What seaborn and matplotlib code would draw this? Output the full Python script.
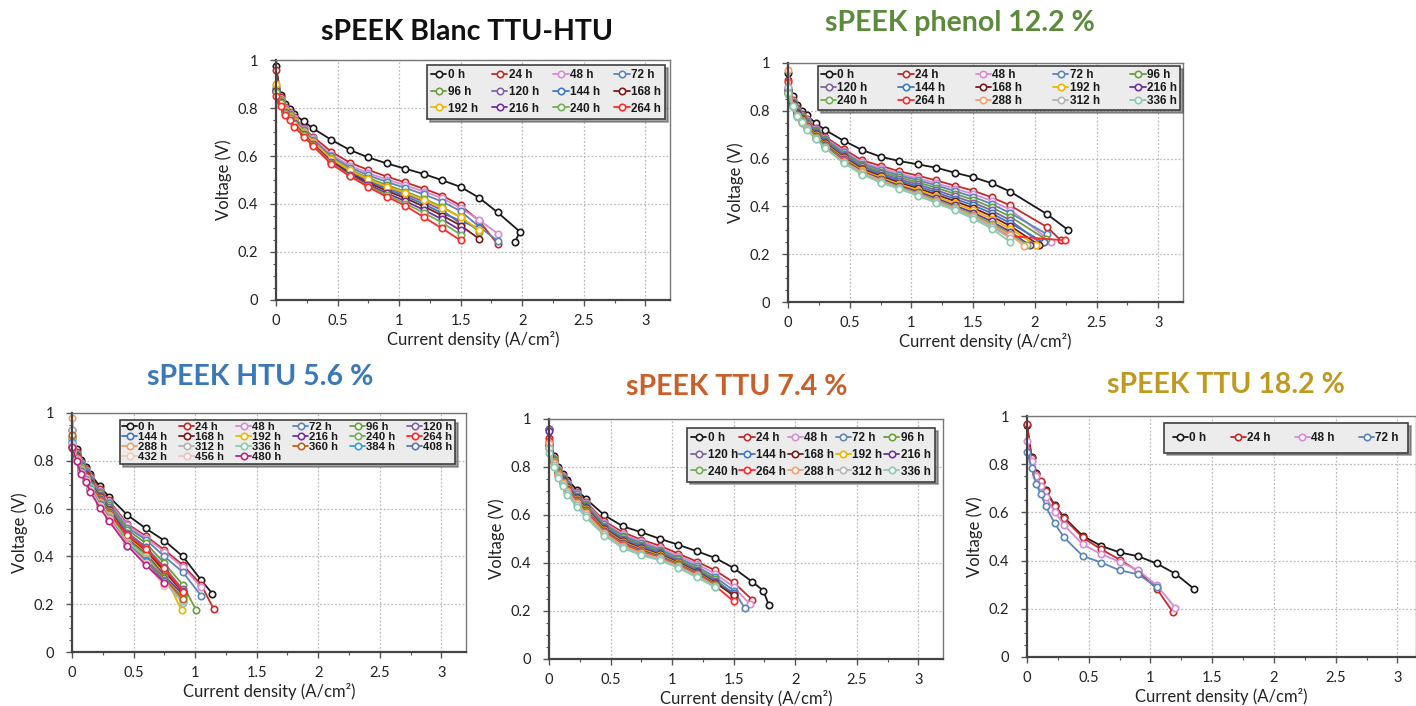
import matplotlib
matplotlib.use("Agg")
import matplotlib.pyplot as plt
from matplotlib.lines import Line2D
from matplotlib.ticker import MultipleLocator, FuncFormatter
import pandas as pd
import seaborn as sns

sns.set_style("ticks")
plt.rcParams['font.family'] = ['Lato', 'DejaVu Sans']

# colour used for each ageing time (same in every panel)
hour_colors = {
    "0 h": "#1a1a1a", "24 h": "#c42a28", "48 h": "#d98ad6", "72 h": "#5b86b8",
    "96 h": "#6a9f3e", "120 h": "#8064a2", "144 h": "#3c78c8", "168 h": "#7a1a1a",
    "192 h": "#f0b400", "216 h": "#7030a0", "240 h": "#70b050", "264 h": "#ff2a2a",
    "288 h": "#f4a070", "312 h": "#b4b4b4", "336 h": "#88ccb0", "360 h": "#c06020",
    "384 h": "#30a0e0", "408 h": "#5a7aa0", "432 h": "#f8c8b0", "456 h": "#f0c0c0",
    "480 h": "#c0208a",
}

# ---- sPEEK Blanc TTU-HTU
blanc_j = [0, 0.0375, 0.075, 0.1125, 0.15, 0.225, 0.3, 0.45, 0.6, 0.75, 0.9,
           1.05, 1.2, 1.35, 1.5, 1.65, 1.8]
blanc_v = {
    "0 h": [0.975, 0.854, 0.817, 0.794, 0.774, 0.744, 0.715, 0.667, 0.625, 0.594, 0.569, 0.547, 0.525, 0.499, 0.471, 0.426, 0.365, 0.285, 0.240],
    "24 h": [0.960, 0.845, 0.805, 0.782, 0.762, 0.716, 0.680, 0.618, 0.572, 0.542, 0.514, 0.490, 0.464, 0.435, 0.394, 0.330, 0.232],
    "48 h": [0.895, 0.838, 0.800, 0.778, 0.757, 0.712, 0.674, 0.605, 0.560, 0.528, 0.502, 0.478, 0.452, 0.424, 0.383, 0.333, 0.277],
    "72 h": [0.885, 0.835, 0.796, 0.774, 0.752, 0.707, 0.668, 0.598, 0.552, 0.519, 0.492, 0.467, 0.440, 0.410, 0.370, 0.305, 0.247],
    "96 h": [0.880, 0.832, 0.792, 0.770, 0.748, 0.702, 0.662, 0.590, 0.543, 0.508, 0.479, 0.452, 0.422, 0.388, 0.345, 0.285],
    "120 h": [0.875, 0.830, 0.790, 0.768, 0.745, 0.699, 0.658, 0.585, 0.537, 0.500, 0.470, 0.441, 0.410, 0.374, 0.318],
    "144 h": [0.872, 0.828, 0.788, 0.765, 0.742, 0.696, 0.655, 0.582, 0.533, 0.495, 0.463, 0.433, 0.400, 0.362, 0.330, 0.298],
    "168 h": [0.870, 0.826, 0.786, 0.763, 0.740, 0.694, 0.652, 0.578, 0.528, 0.488, 0.455, 0.424, 0.390, 0.352, 0.310, 0.255],
    "192 h": [0.900, 0.830, 0.790, 0.768, 0.745, 0.700, 0.660, 0.588, 0.540, 0.503, 0.472, 0.447, 0.418, 0.384, 0.345, 0.292],
    "216 h": [0.868, 0.824, 0.784, 0.760, 0.737, 0.690, 0.648, 0.574, 0.522, 0.480, 0.445, 0.412, 0.376, 0.336, 0.290],
    "240 h": [0.865, 0.822, 0.780, 0.757, 0.733, 0.686, 0.645, 0.570, 0.518, 0.474, 0.438, 0.402, 0.364, 0.322, 0.272],
    "264 h": [0.850, 0.810, 0.770, 0.750, 0.722, 0.680, 0.642, 0.566, 0.516, 0.470, 0.430, 0.393, 0.345, 0.298, 0.248],
}
blanc_tail = {"0 h": [1.98, 1.94]}

# ---- sPEEK phenol 12.2 %
phenol_j = [0, 0.0375, 0.075, 0.1125, 0.15, 0.225, 0.3, 0.45, 0.6, 0.75, 0.9,
            1.05, 1.2, 1.35, 1.5, 1.65, 1.8]
phenol_v = {
    "0 h": [0.960, 0.860, 0.823, 0.800, 0.782, 0.748, 0.720, 0.675, 0.636, 0.608, 0.590, 0.576, 0.562, 0.541, 0.522, 0.497, 0.462, 0.367, 0.301],
    "24 h": [0.930, 0.845, 0.810, 0.785, 0.765, 0.728, 0.692, 0.640, 0.593, 0.570, 0.547, 0.529, 0.509, 0.487, 0.466, 0.438, 0.404, 0.313, 0.258],
    "48 h": [0.900, 0.840, 0.805, 0.780, 0.760, 0.722, 0.686, 0.632, 0.585, 0.560, 0.537, 0.518, 0.497, 0.474, 0.452, 0.423, 0.387, 0.253],
    "72 h": [0.890, 0.838, 0.802, 0.777, 0.756, 0.718, 0.682, 0.626, 0.579, 0.553, 0.530, 0.510, 0.488, 0.464, 0.440, 0.410, 0.372, 0.283],
    "96 h": [0.885, 0.835, 0.799, 0.774, 0.752, 0.714, 0.678, 0.621, 0.573, 0.546, 0.522, 0.501, 0.478, 0.453, 0.428, 0.396, 0.357, 0.262],
    "120 h": [0.880, 0.832, 0.796, 0.770, 0.748, 0.710, 0.674, 0.616, 0.567, 0.539, 0.514, 0.492, 0.468, 0.442, 0.416, 0.383, 0.342, 0.245],
    "144 h": [0.878, 0.830, 0.793, 0.767, 0.745, 0.706, 0.670, 0.611, 0.562, 0.533, 0.507, 0.484, 0.459, 0.432, 0.405, 0.371, 0.330, 0.250],
    "168 h": [0.875, 0.828, 0.790, 0.764, 0.742, 0.702, 0.666, 0.606, 0.556, 0.527, 0.500, 0.476, 0.450, 0.422, 0.394, 0.359, 0.318, 0.240],
    "192 h": [0.880, 0.826, 0.788, 0.761, 0.739, 0.699, 0.662, 0.602, 0.551, 0.521, 0.493, 0.469, 0.442, 0.413, 0.384, 0.348, 0.306, 0.238],
    "216 h": [0.885, 0.824, 0.785, 0.758, 0.736, 0.695, 0.658, 0.597, 0.546, 0.516, 0.487, 0.462, 0.434, 0.404, 0.374, 0.337, 0.294, 0.237],
    "240 h": [0.870, 0.822, 0.783, 0.756, 0.733, 0.692, 0.654, 0.593, 0.542, 0.511, 0.482, 0.456, 0.428, 0.397, 0.366, 0.328, 0.285, 0.238],
    "264 h": [0.920, 0.820, 0.780, 0.753, 0.730, 0.688, 0.650, 0.589, 0.538, 0.506, 0.477, 0.450, 0.421, 0.390, 0.358, 0.319, 0.276, 0.258],
    "288 h": [0.970, 0.818, 0.778, 0.750, 0.727, 0.685, 0.647, 0.585, 0.543, 0.508, 0.478, 0.451, 0.421, 0.392, 0.360, 0.320, 0.280, 0.236],
    "312 h": [0.900, 0.816, 0.776, 0.748, 0.725, 0.683, 0.646, 0.584, 0.537, 0.503, 0.475, 0.448, 0.418, 0.388, 0.355, 0.314, 0.268],
    "336 h": [0.875, 0.820, 0.777, 0.752, 0.721, 0.682, 0.644, 0.582, 0.533, 0.500, 0.473, 0.445, 0.414, 0.384, 0.349, 0.307, 0.251],
}
phenol_tail = {"0 h": [2.10, 2.27], "24 h": [2.10, 2.21], "48 h": [2.13], "72 h": [2.10],
               "96 h": [2.09], "120 h": [2.05], "144 h": [2.07], "168 h": [2.03],
               "192 h": [2.01], "216 h": [1.96], "240 h": [1.94], "264 h": [2.24],
               "288 h": [1.91]}

# ---- sPEEK HTU 5.6 %
htu_j = [0, 0.0375, 0.075, 0.1125, 0.15, 0.225, 0.3, 0.45, 0.6, 0.75, 0.9, 1.05, 1.15]
htu_v = {
    "0 h": [0.930, 0.848, 0.805, 0.775, 0.744, 0.694, 0.650, 0.573, 0.517, 0.466, 0.400, 0.300, 0.244],
    "24 h": [0.900, 0.835, 0.795, 0.765, 0.735, 0.682, 0.635, 0.535, 0.485, 0.427, 0.364, 0.281, 0.180],
    "48 h": [0.880, 0.830, 0.790, 0.760, 0.728, 0.675, 0.628, 0.530, 0.478, 0.420, 0.355, 0.270],
    "72 h": [0.875, 0.828, 0.787, 0.756, 0.724, 0.670, 0.622, 0.520, 0.470, 0.400, 0.334, 0.235],
    "96 h": [0.870, 0.825, 0.783, 0.752, 0.720, 0.664, 0.615, 0.512, 0.455, 0.371, 0.281, 0.174],
    "120 h": [0.865, 0.822, 0.780, 0.748, 0.715, 0.658, 0.607, 0.500, 0.440, 0.355, 0.262],
    "144 h": [0.890, 0.820, 0.777, 0.745, 0.711, 0.652, 0.600, 0.492, 0.432, 0.345, 0.255],
    "168 h": [0.860, 0.818, 0.775, 0.742, 0.708, 0.648, 0.595, 0.485, 0.424, 0.338, 0.250],
    "192 h": [0.900, 0.815, 0.772, 0.738, 0.704, 0.644, 0.590, 0.478, 0.415, 0.325, 0.174],
    "216 h": [0.858, 0.814, 0.770, 0.736, 0.701, 0.640, 0.586, 0.473, 0.410, 0.320, 0.240],
    "240 h": [0.860, 0.812, 0.768, 0.733, 0.698, 0.636, 0.582, 0.468, 0.405, 0.312, 0.230],
    "264 h": [0.855, 0.810, 0.766, 0.731, 0.695, 0.632, 0.578, 0.490, 0.430, 0.350, 0.253],
    "288 h": [0.980, 0.808, 0.764, 0.728, 0.692, 0.628, 0.574, 0.458, 0.395, 0.300, 0.210],
    "312 h": [0.930, 0.806, 0.762, 0.726, 0.689, 0.625, 0.570, 0.455, 0.390, 0.295, 0.205],
    "336 h": [0.900, 0.805, 0.760, 0.724, 0.686, 0.622, 0.566, 0.460, 0.395, 0.305, 0.215],
    "360 h": [0.910, 0.803, 0.758, 0.721, 0.683, 0.618, 0.562, 0.452, 0.385, 0.310, 0.220],
    "384 h": [0.880, 0.800, 0.755, 0.718, 0.680, 0.614, 0.558, 0.448, 0.380, 0.300],
    "408 h": [0.870, 0.798, 0.752, 0.715, 0.677, 0.610, 0.554, 0.445, 0.375, 0.295],
    "432 h": [0.870, 0.800, 0.750, 0.716, 0.678, 0.612, 0.556, 0.448, 0.372, 0.275],
    "456 h": [0.865, 0.802, 0.748, 0.714, 0.675, 0.608, 0.552, 0.447, 0.368, 0.285],
    "480 h": [0.858, 0.800, 0.744, 0.712, 0.670, 0.604, 0.548, 0.445, 0.364, 0.290],
}
htu_tail = {"0 h": [1.14], "96 h": [1.01], "192 h": [0.89]}

# ---- sPEEK TTU 7.4 %
ttu7_j = [0, 0.0375, 0.075, 0.1125, 0.15, 0.225, 0.3, 0.45, 0.6, 0.75, 0.9,
          1.05, 1.2, 1.35, 1.5, 1.65]
ttu7_v = {
    "0 h": [0.960, 0.844, 0.800, 0.772, 0.747, 0.706, 0.667, 0.599, 0.553, 0.528, 0.501, 0.476, 0.449, 0.421, 0.379, 0.322, 0.285, 0.226],
    "24 h": [0.920, 0.838, 0.793, 0.764, 0.738, 0.694, 0.655, 0.574, 0.528, 0.497, 0.472, 0.439, 0.406, 0.369, 0.319, 0.247],
    "48 h": [0.900, 0.836, 0.790, 0.761, 0.734, 0.690, 0.650, 0.568, 0.520, 0.490, 0.463, 0.430, 0.396, 0.355, 0.300, 0.230],
    "72 h": [0.890, 0.834, 0.787, 0.758, 0.730, 0.686, 0.646, 0.562, 0.514, 0.483, 0.456, 0.422, 0.386, 0.342, 0.285, 0.212],
    "96 h": [0.880, 0.832, 0.784, 0.754, 0.726, 0.681, 0.641, 0.556, 0.508, 0.477, 0.450, 0.415, 0.378, 0.333, 0.270],
    "120 h": [0.960, 0.830, 0.781, 0.751, 0.722, 0.677, 0.637, 0.551, 0.502, 0.471, 0.445, 0.410, 0.372, 0.327, 0.262],
    "144 h": [0.900, 0.828, 0.779, 0.748, 0.719, 0.673, 0.633, 0.547, 0.497, 0.466, 0.440, 0.406, 0.368, 0.322, 0.275],
    "168 h": [0.890, 0.826, 0.777, 0.745, 0.716, 0.669, 0.629, 0.543, 0.493, 0.461, 0.436, 0.402, 0.364, 0.318, 0.265],
    "192 h": [0.880, 0.824, 0.775, 0.742, 0.712, 0.665, 0.625, 0.539, 0.488, 0.457, 0.432, 0.398, 0.360, 0.314],
    "216 h": [0.950, 0.822, 0.772, 0.740, 0.709, 0.661, 0.620, 0.535, 0.484, 0.453, 0.428, 0.395, 0.357, 0.311],
    "240 h": [0.880, 0.820, 0.770, 0.737, 0.706, 0.657, 0.616, 0.531, 0.480, 0.449, 0.425, 0.392, 0.354, 0.308],
    "264 h": [0.910, 0.818, 0.768, 0.735, 0.703, 0.653, 0.612, 0.528, 0.477, 0.446, 0.422, 0.389, 0.351, 0.305, 0.240],
    "288 h": [0.900, 0.815, 0.765, 0.732, 0.699, 0.649, 0.607, 0.524, 0.472, 0.442, 0.419, 0.386, 0.348, 0.303],
    "312 h": [0.880, 0.810, 0.760, 0.727, 0.693, 0.642, 0.599, 0.519, 0.467, 0.437, 0.415, 0.383, 0.344, 0.301],
    "336 h": [0.860, 0.800, 0.754, 0.722, 0.685, 0.633, 0.590, 0.514, 0.462, 0.432, 0.411, 0.380, 0.340, 0.299],
}
ttu7_tail = {"0 h": [1.74, 1.785], "72 h": [1.59], "48 h": [1.63]}

# ---- sPEEK TTU 18.2 %
ttu18_j = [0, 0.0375, 0.075, 0.1125, 0.15, 0.225, 0.3, 0.45, 0.6, 0.75, 0.9,
           1.05, 1.2, 1.35]
ttu18_v = {
    "0 h": [0.963, 0.831, 0.765, 0.727, 0.693, 0.630, 0.579, 0.503, 0.461, 0.434, 0.418, 0.388, 0.346, 0.284],
    "24 h": [0.967, 0.824, 0.760, 0.730, 0.690, 0.626, 0.575, 0.496, 0.447, 0.404, 0.356, 0.284, 0.187],
    "48 h": [0.897, 0.814, 0.753, 0.710, 0.665, 0.603, 0.547, 0.468, 0.427, 0.395, 0.360, 0.298, 0.205],
    "72 h": [0.852, 0.785, 0.716, 0.676, 0.626, 0.554, 0.496, 0.420, 0.392, 0.360, 0.343, 0.291],
}
ttu18_tail = {"24 h": [1.18]}

W, H = 1416, 706
fig = plt.figure(figsize=(W / 100, H / 100), dpi=100)


def add_panel(box, grid, volts, tails, ncol, title, tcolor, tpos, leg, xmax=3.2,
              rowgap=0.4, legpad=0.35, legsize=8.5):
    left, top, right, bottom = box
    ax = fig.add_axes([left / W, 1 - bottom / H, (right - left) / W, (bottom - top) / H])
    rows = []
    for name, v in volts.items():
        tail = tails.get(name, [])
        xs = list(grid[:len(v) - len(tail)]) + list(tail)
        for k, (xx, vv) in enumerate(zip(xs, v)):
            rows.append({"j": xx, "V": vv, "series": name, "k": k})
    df = pd.DataFrame(rows)
    names = list(volts)
    sns.lineplot(data=df, x="j", y="V", hue="series", hue_order=names,
                 palette={n: hour_colors[n] for n in names}, estimator=None,
                 sort=False, marker="o", markersize=4.6, linewidth=1.3,
                 legend=False, ax=ax)
    for ln in ax.lines:
        ln.set_markeredgecolor(ln.get_color())
        ln.set_markerfacecolor("white")
        ln.set_markeredgewidth(1.2)
        ln.set_clip_on(False)

    ax.set_xlim(0, xmax)
    ax.set_ylim(0, 1)
    ax.xaxis.set_major_locator(MultipleLocator(0.5))
    ax.xaxis.set_minor_locator(MultipleLocator(0.25))
    ax.yaxis.set_major_locator(MultipleLocator(0.2))
    ax.yaxis.set_minor_locator(MultipleLocator(0.05))
    fmt = FuncFormatter(lambda v, p: f"{v:g}")
    ax.xaxis.set_major_formatter(fmt)
    ax.yaxis.set_major_formatter(fmt)
    ax.grid(True, which="major", color="#bcbcbc", linestyle=(0, (1.5, 1.5)), linewidth=0.9)
    ax.set_axisbelow(True)
    ax.tick_params(which="major", length=4, width=1, color="#555555", labelsize=10.5,
                   labelcolor="#222222")
    ax.tick_params(axis="x", which="major", pad=6)
    ax.tick_params(axis="y", which="major", pad=9)
    ax.tick_params(which="minor", length=2.5, width=0.8, color="#555555")
    for s in ["left", "bottom"]:
        ax.spines[s].set_color("#444444")
        ax.spines[s].set_linewidth(1.6)
    for s in ["top", "right"]:
        ax.spines[s].set_color("#777777")
        ax.spines[s].set_linewidth(1.0)
    ax.set_xlabel("Current density (A/cm²)", fontsize=12, color="#222222", labelpad=2)
    ax.set_ylabel("Voltage (V)", fontsize=12, color="#222222", labelpad=4)

    # legend filled row by row, like the spreadsheet one
    handles = [Line2D([], [], color=hour_colors[n], marker="o", mfc="white",
                      mec=hour_colors[n], ms=4.6, mew=1.2, lw=1.3) for n in names]
    n = len(names)
    nr, big = divmod(n, ncol)
    per_col = [nr + 1] * big + [nr] * (ncol - big)
    order = [r * ncol + c for c in range(ncol) for r in range(per_col[c])]
    lg = ax.legend([handles[i] for i in order], [names[i] for i in order],
                   loc="upper left", bbox_to_anchor=leg, mode="expand", ncol=ncol,
                   prop={"family": ["Liberation Sans", "DejaVu Sans"], "weight": "bold",
                         "size": legsize},
                   handlelength=1.3, handletextpad=0.1, columnspacing=0.5,
                   labelspacing=rowgap, borderpad=legpad, borderaxespad=0,
                   frameon=True, fancybox=False, shadow=True, framealpha=1)
    lg.get_frame().set_facecolor("#ececec")
    lg.get_frame().set_edgecolor("#404040")
    lg.get_frame().set_linewidth(1.2)
    for t in lg.get_texts():
        t.set_color("#1a1a1a")

    fig.text(tpos[0] / W, 1 - tpos[1] / H, title, color=tcolor, fontsize=20.5,
             fontweight="bold", ha="center", va="center")
    return ax


add_panel((276, 60, 670, 300), blanc_j, blanc_v, blanc_tail, 4,
          "sPEEK Blanc TTU-HTU", "#111111", (467, 32), (0.383, 0.0, 0.604, 0.979))
add_panel((788, 63, 1183, 302), phenol_j, phenol_v, phenol_tail, 5,
          "sPEEK phenol 12.2 %", "#5b8a3a", (960, 23), (0.076, 0.0, 0.916, 0.987),
          rowgap=0.08, legpad=0.25)
add_panel((72, 413, 466, 652), htu_j, htu_v, htu_tail, 6,
          "sPEEK HTU 5.6 %", "#3a78b8", (260, 377), (0.122, 0.0, 0.850, 0.971),
          rowgap=0.0, legpad=0.2, legsize=8.2)
add_panel((549, 419, 943, 659), ttu7_j, ttu7_v, ttu7_tail, 5,
          "sPEEK TTU 7.4 %", "#c8602a", (737, 387), (0.350, 0.0, 0.629, 0.9625))
add_panel((1027, 416, 1416, 657), ttu18_j, ttu18_v, ttu18_tail, 4,
          "sPEEK TTU 18.2 %", "#c09a20", (1226, 385), (0.352, 0.0, 0.627, 0.971),
          xmax=3.15, legpad=0.75)

fig.savefig("out.png", dpi=100)
